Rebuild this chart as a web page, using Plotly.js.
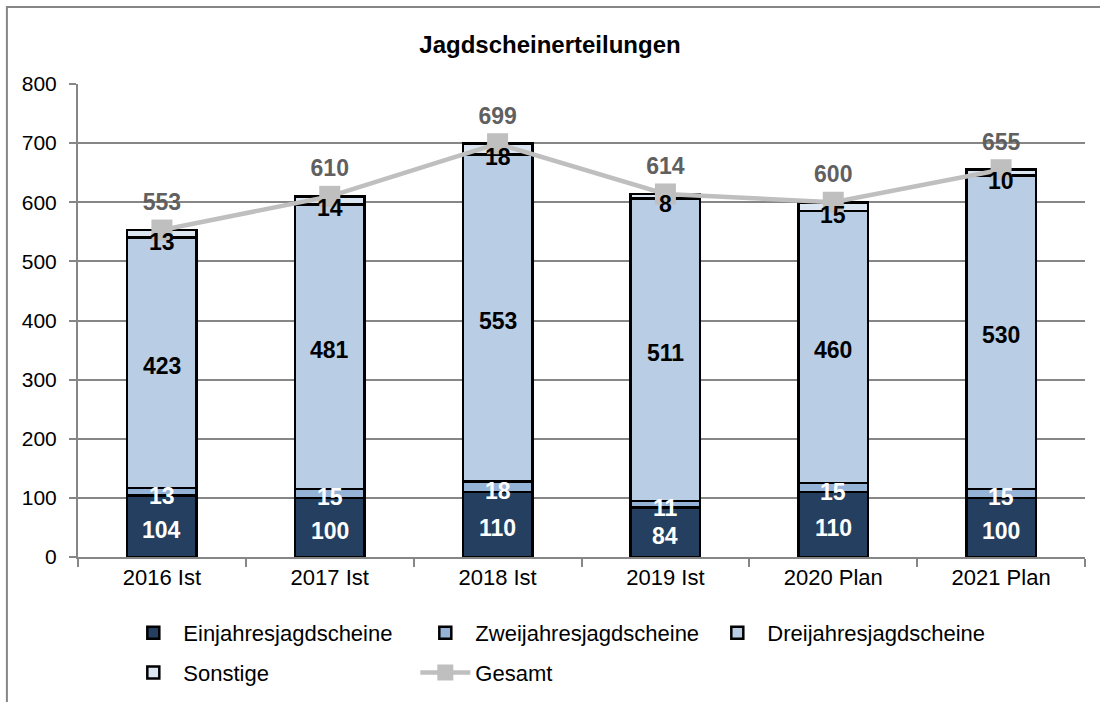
<!DOCTYPE html>
<html>
<head>
<meta charset="utf-8">
<script src="https://cdn.plot.ly/plotly-3.0.1.min.js"></script>
<style>html,body{margin:0;padding:0;background:#fff;overflow:hidden;}#chart{width:1100px;height:702px;}</style>
</head>
<body>
<div id="chart"></div>
<script>
var categories = ["2016 Ist", "2017 Ist", "2018 Ist", "2019 Ist", "2020 Plan", "2021 Plan"];
var einjahres = [104, 100, 110, 84, 110, 100];
var zweijahres = [13, 15, 18, 11, 15, 15];
var dreijahres = [423, 481, 553, 511, 460, 530];
var sonstige = [13, 14, 18, 8, 15, 10];
var gesamt = [553, 610, 699, 614, 600, 655];
var yTicks = [0, 100, 200, 300, 400, 500, 600, 700, 800];

var font = "Liberation Sans, Arial, sans-serif";
var outline = {color: "#000000", width: 2.5};

function bar(name, vals, color, lg) {
  return {type: "bar", name: name, x: categories, y: vals, legend: lg,
    marker: {color: color, line: outline}, hoverinfo: "skip"};
}

// labels at the midpoint of each stacked segment, derived from data
var series = [einjahres, zweijahres, dreijahres, sonstige];
var textColors = ["#ffffff", "#ffffff", "#000000", "#000000"];
var shifts = [-4, -4, -3, -8];
var annotations = [];
var base = categories.map(function(){return 0;});
series.forEach(function(s, si) {
  s.forEach(function(v, i) {
    annotations.push({x: categories[i], y: base[i] + v / 2, xref: "x", yref: "y",
      text: "<b>" + v + "</b>", showarrow: false, yshift: shifts[si],
      xanchor: "center", yanchor: "middle",
      font: {family: font, size: 23, color: textColors[si]}});
  });
  base = base.map(function(b, i){ return b + s[i]; });
});

var traces = [
  bar("Einjahresjagdscheine", einjahres, "#243F60", "legend"),
  bar("Zweijahresjagdscheine", zweijahres, "#95B3D7", "legend"),
  bar("Dreijahresjagdscheine", dreijahres, "#B9CDE5", "legend"),
  bar("Sonstige", sonstige, "#DCE6F2", "legend2"),
  {type: "scatter", mode: "lines+markers+text", name: "Gesamt", x: categories, y: gesamt,
    legend: "legend2",
    line: {color: "#BFBFBF", width: 4.5},
    marker: {symbol: "square", size: 21, color: "#BFBFBF"},
    text: gesamt.map(String), textposition: "top center",
    textfont: {family: font, size: 23, color: "#606060", weight: "bold"},
    cliponaxis: false, hoverinfo: "skip"}
];

var legendBase = {orientation: "h", x: 0.045, xanchor: "left", yanchor: "top",
  traceorder: "normal", entrywidth: 227, entrywidthmode: "pixels",
  font: {family: font, size: 22, color: "#000000"}, itemwidth: 50,
  bgcolor: "rgba(0,0,0,0)"};

var layout = {
  width: 1100, height: 702,
  margin: {l: 78, r: 15, t: 84, b: 145, autoexpand: false},
  paper_bgcolor: "#ffffff", plot_bgcolor: "#ffffff",
  barmode: "stack", bargap: 0.585,
  font: {family: font, size: 22, color: "#000000"},
  title: {text: "<b>Jagdscheinerteilungen</b>", x: 0.5, xanchor: "center", y: 0.937, yanchor: "middle",
    font: {family: font, size: 24, color: "#000000"}},
  xaxis: {type: "category", showgrid: false, showline: true, linecolor: "#868686", linewidth: 2,
    ticks: "outside", tickson: "boundaries", ticklen: 8, tickcolor: "#868686", tickwidth: 2,
    tickfont: {family: font, size: 22, color: "#000000"}, fixedrange: true},
  yaxis: {range: [0, 800], tickvals: yTicks, ticktext: yTicks.map(String),
    showgrid: true, gridcolor: "#868686", gridwidth: 2, zeroline: false,
    showline: true, linecolor: "#868686", linewidth: 2,
    ticks: "outside", ticklen: 7, tickcolor: "#868686", tickwidth: 2, ticklabelstandoff: 8,
    tickfont: {family: font, size: 21, color: "#000000"}, fixedrange: true},
  legend: Object.assign({}, legendBase, {y: -0.116}),
  legend2: Object.assign({}, legendBase, {y: -0.2}),
  annotations: annotations,
  shapes: [{type: "rect", xref: "paper", yref: "paper", x0: -0.0706, x1: 1.3, y0: -0.5, y1: 1.1628,
    line: {color: "#868686", width: 2}, fillcolor: "rgba(0,0,0,0)", layer: "below"}],
  showlegend: true
};

Plotly.newPlot("chart", traces, layout, {displayModeBar: false, staticPlot: true});
</script>
</body>
</html>
